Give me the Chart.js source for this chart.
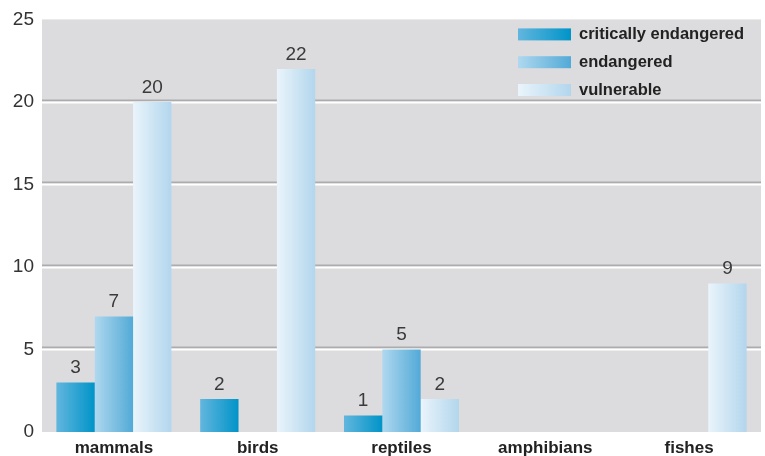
<!DOCTYPE html>
<html>
<head>
<meta charset="utf-8">
<script src="https://cdn.jsdelivr.net/npm/chart.js@4/dist/chart.umd.min.js"></script>
<style>
  html, body { margin: 0; padding: 0; background: #fff; }
  #wrap { width: 765px; height: 456px; }
</style>
</head>
<body>
<div id="wrap"><canvas id="chart"></canvas></div>
<script>
const categories = ["mammals", "birds", "reptiles", "amphibians", "fishes"];
const seriesNames = ["critically endangered", "endangered", "vulnerable"];
const criticallyEndangered = [3, 2, 1, null, null];
const endangered = [7, null, 5, null, null];
const vulnerable = [20, 22, 2, null, 9];

// left -> right gradient stops for each series
const gradStops = [
    ["#62b6de", "#0094c8"],
    ["#afd8ef", "#52aad7"],
    ["#eaf4fb", "#b2d6ed"]
];

function barGradient(ctx2d, left, width, i) {
    const g = ctx2d.createLinearGradient(left, 0, left + width, 0);
    g.addColorStop(0, gradStops[i][0]);
    g.addColorStop(1, gradStops[i][1]);
    return g;
}

function scriptedFill(context) {
    const chart = context.chart;
    const xs = chart.scales.x;
    const i = context.datasetIndex;
    if (!xs || context.type !== "data") return gradStops[i][1];
    const catW = xs.width / categories.length;
    const groupW = catW * 0.8;
    const barW = groupW / seriesNames.length;
    const left = xs.getPixelForValue(context.dataIndex) - groupW / 2 + i * barW;
    if (!Number.isFinite(left) || !Number.isFinite(barW)) return gradStops[i][1];
    return barGradient(chart.ctx, left, barW, i);
}

// gray plot background
const plotBg = {
    id: "plotBg",
    beforeDraw(chart) {
        const { ctx, chartArea: a } = chart;
        ctx.save();
        ctx.fillStyle = "#dcdcde";
        ctx.fillRect(a.left, a.top, a.right - a.left, a.bottom - a.top);
        ctx.restore();
    }
};

// embossed grid lines: gray line with a white one beneath
const embossGrid = {
    id: "embossGrid",
    beforeDatasetsDraw(chart) {
        const { ctx, chartArea: a, scales } = chart;
        ctx.save();
        scales.y.ticks.forEach(t => {
            if (t.value <= 0 || t.value >= 25) return;
            const y = Math.round(scales.y.getPixelForValue(t.value));
            ctx.fillStyle = "#acacae";
            ctx.fillRect(a.left, y - 2.5, a.right - a.left, 2);
            ctx.fillStyle = "#ffffff";
            ctx.fillRect(a.left, y - 0.5, a.right - a.left, 2);
        });
        ctx.restore();
    }
};

// value labels over bars
const valueLabels = {
    id: "valueLabels",
    afterDatasetsDraw(chart) {
        const ctx = chart.ctx;
        ctx.save();
        ctx.font = "19px 'Liberation Sans', Arial, sans-serif";
        ctx.fillStyle = "#3a3a3a";
        ctx.textAlign = "center";
        ctx.textBaseline = "alphabetic";
        chart.data.datasets.forEach((ds, i) => {
            chart.getDatasetMeta(i).data.forEach((bar, j) => {
                const v = ds.data[j];
                if (v === null || v === undefined) return;
                ctx.fillText(String(v), bar.x, bar.y - 9);
            });
        });
        ctx.restore();
    }
};

// legend drawn inside the plot, top right
const insideLegend = {
    id: "insideLegend",
    afterDraw(chart) {
        const ctx = chart.ctx;
        const a = chart.chartArea;
        const boxX = a.right - 243;
        ctx.save();
        ctx.font = "bold 16.5px 'Liberation Sans', Arial, sans-serif";
        ctx.textBaseline = "middle";
        chart.data.datasets.forEach((ds, i) => {
            const y0 = a.top + 9 + i * 27.8;
            ctx.fillStyle = barGradient(ctx, boxX, 53, i);
            ctx.fillRect(boxX, y0, 53, 12);
            ctx.fillStyle = "#222";
            ctx.fillText(ds.label, boxX + 61, y0 + 6);
        });
        ctx.restore();
    }
};

const seriesData = [criticallyEndangered, endangered, vulnerable];

new Chart(document.getElementById("chart"), {
    type: "bar",
    data: {
        labels: categories,
        datasets: seriesNames.map((name, i) => ({
            label: name,
            data: seriesData[i],
            backgroundColor: scriptedFill,
            borderWidth: 0,
            categoryPercentage: 0.8,
            barPercentage: 1.0
        }))
    },
    options: {
        responsive: true,
        maintainAspectRatio: false,
        animation: false,
        layout: { padding: { top: 17, right: 4, left: 0, bottom: 0 } },
        plugins: {
            legend: { display: false },
            tooltip: { enabled: false }
        },
        scales: {
            x: {
                grid: { display: false, drawTicks: false },
                border: { display: false },
                ticks: {
                    color: "#222",
                    padding: 6,
                    font: { family: "'Liberation Sans', Arial, sans-serif", size: 17, weight: "bold" }
                },
                afterFit(scale) { scale.height = 24; }
            },
            y: {
                min: 0,
                max: 25,
                grid: { display: false, drawTicks: false },
                border: { display: false },
                ticks: {
                    stepSize: 5,
                    color: "#333",
                    padding: 8,
                    font: { family: "'Liberation Sans', Arial, sans-serif", size: 19 }
                },
                afterFit(scale) { scale.width = 42; }
            }
        }
    },
    plugins: [plotBg, embossGrid, valueLabels, insideLegend]
});
</script>
</body>
</html>
